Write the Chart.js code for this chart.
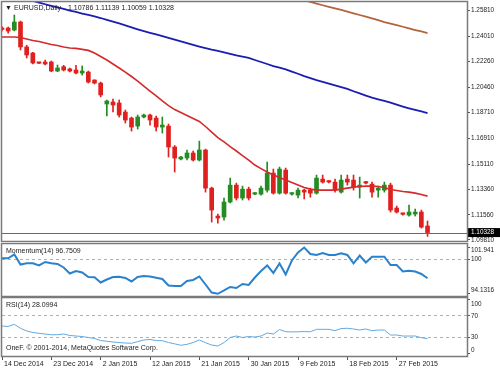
<!DOCTYPE html>
<html>
<head>
<meta charset="utf-8">
<script src="https://cdn.jsdelivr.net/npm/chart.js@4.4.1/dist/chart.umd.min.js"></script>
<style>
  html, body { margin: 0; padding: 0; background: #fff; }
  #wrap { position: relative; width: 500px; height: 369px; overflow: hidden; }
  canvas { position: absolute; left: 0; }
</style>
</head>
<body>
<div id="wrap">
  <canvas id="main" width="500" height="242" style="top:0"></canvas>
  <canvas id="mom" width="500" height="55" style="top:242px"></canvas>
  <canvas id="rsi" width="500" height="72" style="top:297px"></canvas>
</div>
<script>
// daily bars, EURUSD
var dates = ['2014-12-14','2014-12-15','2014-12-16','2014-12-17','2014-12-18','2014-12-19','2014-12-21','2014-12-22','2014-12-23','2014-12-24',
  '2014-12-26','2014-12-28','2014-12-29','2014-12-30','2014-12-31','2015-01-01','2015-01-02','2015-01-04','2015-01-05','2015-01-06',
  '2015-01-07','2015-01-08','2015-01-09','2015-01-11','2015-01-12','2015-01-13','2015-01-14','2015-01-15','2015-01-16','2015-01-18',
  '2015-01-19','2015-01-20','2015-01-21','2015-01-22','2015-01-23','2015-01-25','2015-01-26','2015-01-27','2015-01-28','2015-01-29',
  '2015-01-30','2015-02-01','2015-02-02','2015-02-03','2015-02-04','2015-02-05','2015-02-06','2015-02-08','2015-02-09','2015-02-10',
  '2015-02-11','2015-02-12','2015-02-13','2015-02-15','2015-02-16','2015-02-17','2015-02-18','2015-02-19','2015-02-20','2015-02-22',
  '2015-02-23','2015-02-24','2015-02-25','2015-02-26','2015-02-27','2015-03-01','2015-03-02','2015-03-03','2015-03-04','2015-03-05'];

var opens = [1.2460,1.2460,1.2446,1.2502,1.2328,1.2286,1.2218,1.2223,1.2223,1.2160,
  1.2190,1.2175,1.2167,1.2146,1.2153,1.2097,1.2076,1.1930,1.1944,1.1937,
  1.1874,1.1832,1.1776,1.1839,1.1853,1.1832,1.1769,1.1776,1.1630,1.1546,
  1.1553,1.1588,1.1539,1.1609,1.1343,1.1148,1.1141,1.1246,1.1364,1.1274,
  1.1336,1.1301,1.1301,1.1329,1.1448,1.1308,1.1469,1.1301,1.1294,1.1329,
  1.1329,1.1308,1.1406,1.1392,1.1385,1.1315,1.1406,1.1399,1.1350,1.1385,
  1.1371,1.1329,1.1329,1.1364,1.1204,1.1165,1.1155,1.1162,1.1176,1.10786];
var highs = [1.2470,1.2467,1.2551,1.2509,1.2340,1.2290,1.2220,1.2237,1.2230,1.2202,
  1.2200,1.2181,1.2200,1.2195,1.2160,1.2100,1.2083,1.1958,1.1965,1.1958,
  1.1888,1.1839,1.1853,1.1860,1.1860,1.1846,1.1839,1.1790,1.1640,1.1565,
  1.1609,1.1602,1.1671,1.1615,1.1350,1.1162,1.1274,1.1413,1.1378,1.1357,
  1.1350,1.1312,1.1357,1.1525,1.1476,1.1490,1.1483,1.1312,1.1343,1.1336,
  1.1343,1.1434,1.1434,1.1395,1.1406,1.1434,1.1434,1.1434,1.1420,1.1390,
  1.1385,1.1357,1.1385,1.1378,1.1218,1.1168,1.1225,1.1197,1.1190,1.11139];
var lows = [1.2440,1.2425,1.2440,1.2307,1.2251,1.2210,1.2212,1.2202,1.2155,1.2155,
  1.2160,1.2153,1.2139,1.2132,1.2076,1.2070,1.1980,1.1846,1.1874,1.1839,
  1.1797,1.1741,1.1755,1.1832,1.1783,1.1741,1.1727,1.1560,1.1455,1.1540,
  1.1539,1.1532,1.1532,1.1315,1.1106,1.1099,1.1120,1.1239,1.1260,1.1260,
  1.1260,1.1297,1.1294,1.1315,1.1301,1.1301,1.1301,1.1294,1.1274,1.1267,
  1.1280,1.1301,1.1378,1.1380,1.1315,1.1308,1.1364,1.1329,1.1274,1.1372,
  1.1280,1.1280,1.1315,1.1176,1.1169,1.1155,1.1148,1.1148,1.1064,1.10059];
var closes = [1.2450,1.2439,1.2502,1.2328,1.2272,1.2216,1.2214,1.2209,1.2160,1.2181,
  1.2167,1.2160,1.2146,1.2160,1.2083,1.2076,1.1993,1.1951,1.1923,1.1853,
  1.1818,1.1769,1.1839,1.1853,1.1818,1.1769,1.1783,1.1630,1.1553,1.1560,
  1.1588,1.1539,1.1609,1.1343,1.1190,1.1134,1.1246,1.1364,1.1274,1.1336,
  1.1274,1.1308,1.1343,1.1448,1.1308,1.1476,1.1308,1.1308,1.1329,1.1315,
  1.1308,1.1413,1.1385,1.1385,1.1329,1.1399,1.1385,1.1350,1.1364,1.1378,
  1.1315,1.1343,1.1364,1.1190,1.1176,1.1160,1.1176,1.1176,1.1071,1.10328];

// moving averages
var maRed = [1.2397,1.2397,1.2397,1.2394,1.2383,1.2373,1.2366,1.2356,1.2345,1.2338,
  1.2328,1.2321,1.2318,1.2311,1.2304,1.2286,1.2261,1.2237,1.2209,1.2181,
  1.2153,1.2122,1.2090,1.2055,1.2020,1.1986,1.1951,1.1919,1.1891,1.1870,
  1.1850,1.1829,1.1808,1.1773,1.1734,1.1696,1.1665,1.1633,1.1602,1.1570,
  1.1539,1.1504,1.1479,1.1455,1.1434,1.1417,1.1399,1.1382,1.1364,1.1347,
  1.1336,1.1329,1.1329,1.1329,1.1329,1.1336,1.1343,1.1350,1.1354,1.1357,
  1.1357,1.1354,1.1347,1.1333,1.1326,1.1319,1.1315,1.1308,1.1298,1.1287];
var maBlue = [1.2708,1.2696,1.2684,1.2672,1.2661,1.2650,1.2638,1.2626,1.2615,1.2604,
  1.2593,1.2582,1.2572,1.2561,1.2551,1.2541,1.2530,1.2517,1.2505,1.2492,
  1.2478,1.2464,1.2451,1.2439,1.2427,1.2416,1.2404,1.2392,1.2379,1.2367,
  1.2354,1.2342,1.2330,1.2319,1.2309,1.2300,1.2290,1.2280,1.2270,1.2261,
  1.2251,1.2237,1.2223,1.2209,1.2195,1.2184,1.2171,1.2156,1.2141,1.2125,
  1.2111,1.2097,1.2085,1.2072,1.2060,1.2047,1.2035,1.2019,1.2004,1.1989,
  1.1975,1.1963,1.1951,1.1939,1.1925,1.1912,1.1900,1.1889,1.1878,1.1867];
var maBrown = [null,null,null,null,null,null,null,null,null,null,
  null,null,null,null,null,null,null,null,null,null,
  null,null,null,null,null,null,null,null,null,null,
  null,null,null,null,null,null,null,null,null,null,
  null,null,null,null,null,null,1.2687,1.2677,1.2665,1.2654,
  1.2642,1.2631,1.2619,1.2608,1.2597,1.2586,1.2575,1.2563,1.2551,1.2539,
  1.2527,1.2515,1.2502,1.2491,1.2480,1.2469,1.2457,1.2446,1.2436,1.2425];

// indicators
var momentum = [100.12,100.12,100.76,99.07,99.28,99.28,98.91,99.50,99.28,99.16,
  98.57,97.56,97.98,97.72,96.97,96.92,96.04,96.54,96.97,97.02,
  96.80,96.21,96.97,97.13,97.05,96.83,96.63,95.53,95.45,95.45,
  96.29,96.46,97.05,95.70,94.35,94.1316,94.69,95.28,95.11,95.78,
  95.62,96.88,97.98,98.91,97.64,99.24,97.39,99.75,101.10,101.941,
  100.85,100.68,101.01,100.68,100.68,100.96,100.68,99.28,100.59,99.41,
  100.39,100.39,100.39,98.99,98.99,97.89,98.03,97.89,97.47,96.7509];
var rsi = [51.5,50.6,54.6,47.3,42.3,39.5,38.0,36.7,35.3,35.4,
  36.7,34.0,33.0,32.1,30.3,28.4,24.7,23.3,22.0,20.9,
  20.1,19.6,22.7,25.7,26.6,24.7,24.4,21.0,18.6,15.9,
  17.7,21.0,25.7,20.7,16.4,14.6,21.0,30.3,33.0,30.3,
  32.1,31.2,33.0,38.6,36.7,45.0,41.0,40.6,40.8,41.2,
  40.9,45.4,45.4,45.4,43.0,46.9,47.3,46.0,44.1,46.0,
  42.8,44.1,44.1,34.9,34.9,33.0,33.0,33.0,29.9,28.0994];

var priceTicks = [1.0981,1.1156,1.1336,1.1511,1.1691,1.1871,1.2046,1.2226,1.2401,1.2581];
var momTicks = [94.1316,100,101.941];
var rsiTicks = [0,30,70,100];
var dateTicks = [0,8,16,24,32,40,48,56,64];

var MON = ['Jan','Feb','Mar','Apr','May','Jun','Jul','Aug','Sep','Oct','Nov','Dec'];
var FONT = "7px 'Liberation Sans', Arial, sans-serif";
var AXFONT = "6.4px 'Liberation Sans', Arial, sans-serif";
var GREEN = '#238c23', RED = '#e0201e';

function dayLabel(s) {
  var p = s.split('-');
  return (+p[2]) + ' ' + MON[+p[1] - 1] + ' ' + p[0];
}
function xy(arr) {
  return arr.map(function (v, i) { return { x: i, y: v }; });
}
var last = closes.length - 1;

// border, right axis labels, titles
var frame = {
  id: 'frame',
  afterDraw: function (chart, args, o) {
    var a = chart.chartArea, c = chart.ctx, ys = chart.scales.y;
    c.save();
    if (o.bid) {
      var by = Math.round(ys.getPixelForValue(closes[last])) + 0.5;
      c.strokeStyle = '#6a6a6a'; c.lineWidth = 1;
      c.beginPath(); c.moveTo(a.left, by); c.lineTo(a.right, by); c.stroke();
    }
    c.font = AXFONT; c.fillStyle = '#222'; c.textBaseline = 'middle'; c.textAlign = 'left';
    ys.ticks.forEach(function (t) {
      var y = ys.getPixelForValue(t.value);
      y = Math.min(Math.max(y, a.top + o.pad), a.bottom - o.pad);
      c.fillText(o.fmt(t.value), a.right + 4, y);
    });
    if (o.bid) {
      var yb = ys.getPixelForValue(closes[last]);
      c.fillStyle = '#000'; c.fillRect(a.right + 1, yb - 4.5, 32, 9);
      c.fillStyle = '#fff'; c.fillText(closes[last].toFixed(5), a.right + 4, yb);
    }
    c.strokeStyle = '#7a7a7a'; c.lineWidth = 1.5;
    c.strokeRect(a.left - 0.5, a.top - 0.5, a.right - a.left + 1, a.bottom - a.top + 1);
    c.font = FONT; c.fillStyle = '#222';
    (o.texts || []).forEach(function (t) { c.fillText(t[0], t[1], t[2]); });
    c.restore();
  }
};
Chart.register(frame);

function xScale(show) {
  return {
    type: 'linear', min: 0, max: 75.4, display: show, offset: false,
    afterBuildTicks: function (s) { s.ticks = dateTicks.map(function (v) { return { value: v }; }); },
    afterFit: function (s) { if (show) { s.height = 13; s.paddingLeft = 0; s.paddingRight = 0; } },
    grid: { drawOnChartArea: false, drawTicks: true, tickLength: 4, tickColor: '#555', offset: false },
    border: { display: false },
    ticks: {
      align: 'start', labelOffset: 2, padding: 0, maxRotation: 0, autoSkip: false,
      color: '#222', font: { family: "'Liberation Sans', Arial, sans-serif", size: 7 },
      callback: function (v) { return dayLabel(dates[v]); }
    }
  };
}
function yScale(min, max, ticks, levels) {
  return {
    position: 'right', min: min, max: max,
    afterBuildTicks: function (s) { s.ticks = ticks.map(function (v) { return { value: v }; }); },
    afterFit: function (s) { s.width = 33; s.paddingTop = 0; s.paddingBottom = 0; },
    grid: {
      drawOnChartArea: !!levels, drawTicks: true, tickLength: 3, tickColor: '#555',
      color: function (ctx) {
        return levels && ctx.tick && levels.indexOf(ctx.tick.value) >= 0 ? '#b0b0b0' : 'rgba(0,0,0,0)';
      }
    },
    border: { display: false, dash: [3, 3] },
    ticks: { display: false }
  };
}
function base(padding, scales, frameOpts) {
  return {
    responsive: false, animation: false, devicePixelRatio: 1,
    layout: { padding: padding },
    scales: scales,
    plugins: { legend: { display: false }, tooltip: { enabled: false }, frame: frameOpts }
  };
}

var header = [['\u25BC', 5, 8], ['EURUSD,Daily', 14, 8],
  [opens[last].toFixed(5) + ' ' + highs[last].toFixed(5) + ' ' + lows[last].toFixed(5) + ' ' + closes[last].toFixed(5), 68, 8]];

new Chart(document.getElementById('main'), {
  type: 'bar',
  data: {
    datasets: [
      { type: 'line', data: xy(maRed), borderColor: '#d42a2a', borderWidth: 1.6, pointRadius: 0, order: 0 },
      { type: 'line', data: xy(maBlue), borderColor: '#1c1cb4', borderWidth: 1.8, pointRadius: 0, order: 0 },
      { type: 'line', data: xy(maBrown), borderColor: '#b4643c', borderWidth: 1.8, pointRadius: 0, order: 0 },
      { data: opens.map(function (o, i) { return { x: i, y: [o, closes[i]] }; }),
        backgroundColor: function (ctx) { var i = ctx.dataIndex; return closes[i] >= opens[i] ? GREEN : RED; },
        barThickness: 4, minBarLength: 1.5, grouped: false, borderWidth: 0, order: 1 },
      { data: lows.map(function (l, i) { return { x: i, y: [l, highs[i]] }; }),
        backgroundColor: function (ctx) { var i = ctx.dataIndex; return closes[i] >= opens[i] ? GREEN : RED; },
        barThickness: 1, grouped: false, borderWidth: 0, order: 2 }
    ]
  },
  options: base({ left: 2, top: 2, right: 0, bottom: 1 },
    { x: xScale(false), y: yScale(1.0974, 1.26417, priceTicks, null) },
    { pad: 0, bid: true, texts: header, fmt: function (v) { return v.toFixed(5); } })
});

new Chart(document.getElementById('mom'), {
  type: 'line',
  data: { datasets: [{ data: xy(momentum), borderColor: '#2a82cc', borderWidth: 2, pointRadius: 0 }] },
  options: base({ left: 2, top: 2, right: 0, bottom: 1 },
    { x: xScale(false), y: yScale(93.76, 102.531, momTicks, [100]) },
    { pad: 6, texts: [['Momentum(14) ' + momentum[last].toFixed(4), 6, 9]], fmt: function (v) { return String(v); } })
});

new Chart(document.getElementById('rsi'), {
  type: 'line',
  data: { datasets: [{ data: xy(rsi), borderColor: '#62a8e0', borderWidth: 1, pointRadius: 0 }] },
  options: base({ left: 2, top: 1, right: 0, bottom: 0 },
    { x: xScale(true), y: yScale(-3.88, 103.23, rsiTicks, [30, 70]) },
    { pad: 6, texts: [['RSI(14) ' + rsi[last].toFixed(4), 6, 8],
      ['OneF. \u00A9 2001-2014, MetaQuotes Software Corp.', 6, 51.5]], fmt: function (v) { return String(v); } })
});
</script>
</body>
</html>
